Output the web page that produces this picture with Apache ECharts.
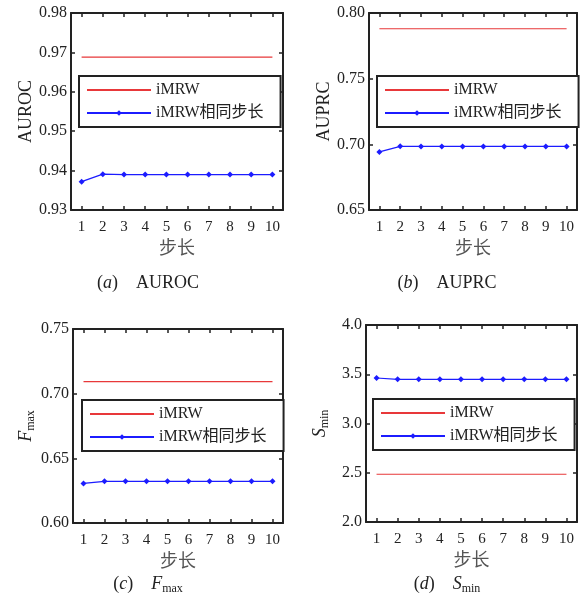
<!DOCTYPE html>
<html><head><meta charset="utf-8">
<script src="https://cdn.jsdelivr.net/npm/echarts@6/dist/echarts.min.js"></script>
<style>html,body{margin:0;padding:0;background:#fff}#c{width:581px;height:610px}</style>
</head><body><div id="c"></div>
<script>
const steps = ['1','2','3','4','5','6','7','8','9','10'];
const aurocIMRW = [0.9688,0.9688,0.9688,0.9688,0.9688,0.9688,0.9688,0.9688,0.9688,0.9688];
const aurocSame = [0.9372,0.9391,0.9390,0.9390,0.9390,0.9390,0.9390,0.9390,0.9390,0.9390];
const auprcIMRW = [0.788,0.788,0.788,0.788,0.788,0.788,0.788,0.788,0.788,0.788];
const auprcSame = [0.6942,0.6985,0.6984,0.6984,0.6984,0.6984,0.6984,0.6984,0.6984,0.6984];
const fmaxIMRW = [0.7093,0.7093,0.7093,0.7093,0.7093,0.7093,0.7093,0.7093,0.7093,0.7093];
const fmaxSame = [0.6306,0.6322,0.6322,0.6322,0.6322,0.6322,0.6322,0.6322,0.6322,0.6322];
const sminIMRW = [2.485,2.485,2.485,2.485,2.485,2.485,2.485,2.485,2.485,2.485];
const sminSame = [3.462,3.448,3.448,3.448,3.448,3.448,3.448,3.448,3.448,3.448];
const seriesNames = ['iMRW','iMRW相同步长'];
const xName = '步长';

const SERIF = "'Liberation Serif','Times New Roman','Noto Sans CJK SC',serif";
const TXT = '#222';
const panels = [
  {grid:{left:71,top:13,width:212,height:197}, y:{min:0.93,max:0.98,interval:0.01,dec:2}, name:'AUROC', a:aurocIMRW, b:aurocSame, legend:{left:79,top:76}, cap:{x:143,y:269,letter:'a',text:'AUROC'}},
  {grid:{left:369,top:13,width:208,height:197}, y:{min:0.65,max:0.80,interval:0.05,dec:2}, name:'AUPRC', a:auprcIMRW, b:auprcSame, legend:{left:377,top:76}, cap:{x:442,y:269,letter:'b',text:'AUPRC'}},
  {grid:{left:73,top:329,width:210,height:194}, y:{min:0.60,max:0.75,interval:0.05,dec:2}, name:'{i|F}{sub|max}', a:fmaxIMRW, b:fmaxSame, legend:{left:82,top:400}, cap:{x:143,y:568,letter:'c',text:'F',sub:'max'}},
  {grid:{left:366,top:325,width:211,height:197}, y:{min:2.0,max:4.0,interval:0.5,dec:1}, name:'{i|S}{sub|min}', a:sminIMRW, b:sminSame, legend:{left:373,top:399}, cap:{x:442,y:568,letter:'d',text:'S',sub:'min'}}
];

const rich = {
  n:{fontFamily:SERIF,fontSize:18,fontWeight:'normal',color:TXT},
  i:{fontFamily:SERIF,fontSize:18,fontStyle:'italic',fontWeight:'normal',color:TXT},
  sub:{fontFamily:SERIF,fontSize:12,fontWeight:'normal',color:TXT,padding:[10,0,0,0]}
};

const option = {animation:false, backgroundColor:'#fff', grid:[], xAxis:[], yAxis:[], series:[], legend:[], title:[]};
panels.forEach((p, gi) => {
  option.grid.push(Object.assign({containLabel:false}, p.grid));
  const lineStyle = {color:'#222', width:2};
  const tick = {show:true, inside:true, length:4, lineStyle:{color:'#222', width:1.5}};
  option.xAxis.push({type:'category', gridIndex:gi, data:steps, boundaryGap:true, position:'bottom',
    axisLine:{lineStyle}, axisTick:Object.assign({alignWithLabel:true, interval:0}, tick),
    axisLabel:{fontFamily:SERIF, fontSize:15, color:TXT, margin:10, interval:0},
    name:xName, nameLocation:'middle', nameGap:28,
    nameTextStyle:{fontFamily:"'Noto Sans CJK SC',sans-serif", fontSize:18, color:'#555'}});
  option.xAxis.push({type:'category', gridIndex:gi, data:steps, boundaryGap:true, position:'top',
    axisLine:{lineStyle}, axisTick:Object.assign({alignWithLabel:true, interval:0}, tick), axisLabel:{show:false}});
  option.yAxis.push({type:'value', gridIndex:gi, min:p.y.min, max:p.y.max, interval:p.y.interval, position:'left',
    axisLine:{show:true, lineStyle}, axisTick:tick, splitLine:{show:false},
    axisLabel:{fontFamily:SERIF, fontSize:16, color:TXT, margin:4, formatter:v=>v.toFixed(p.y.dec)},
    name:p.name, nameLocation:'middle', nameGap:35,
    nameTextStyle:{fontFamily:SERIF, fontSize:18, color:TXT, rich}});
  option.yAxis.push({type:'value', gridIndex:gi, min:p.y.min, max:p.y.max, interval:p.y.interval, position:'right',
    axisLine:{show:true, lineStyle}, axisTick:tick, splitLine:{show:false}, axisLabel:{show:false}});
  option.series.push({type:'line', name:seriesNames[0], xAxisIndex:gi*2, yAxisIndex:gi*2, data:p.a,
    symbol:'none', lineStyle:{color:'#e8383a', width:1.2}, itemStyle:{color:'#e8383a'}});
  option.series.push({type:'line', name:seriesNames[1], xAxisIndex:gi*2, yAxisIndex:gi*2, data:p.b,
    symbol:'diamond', symbolSize:6, showSymbol:true, lineStyle:{color:'#1c1cff', width:1.2}, itemStyle:{color:'#1c1cff'}});
  option.legend.push({left:p.legend.left, top:p.legend.top, orient:'vertical',
    data:[{name:seriesNames[0], itemStyle:{opacity:0}}, {name:seriesNames[1]}],
    itemWidth:64, itemHeight:7, itemGap:7, padding:[6,17,6,7],
    borderColor:'#222', borderWidth:2, backgroundColor:'#fff', selectedMode:false,
    textStyle:{fontFamily:SERIF, fontSize:16, lineHeight:16, color:TXT}});
  const c = p.cap;
  const text = c.sub ? `{n|(}{i|${c.letter}}{n|)    }{i|${c.text}}{sub|${c.sub}}` : `{n|(}{i|${c.letter}}{n|)    ${c.text}}`;
  option.title.push({text, left:c.x, top:c.y, textAlign:'center', textStyle:{fontWeight:'normal', rich}});
});
const chart = echarts.init(document.getElementById('c'), null, {renderer:'canvas'});
chart.setOption(option);
</script></body></html>
